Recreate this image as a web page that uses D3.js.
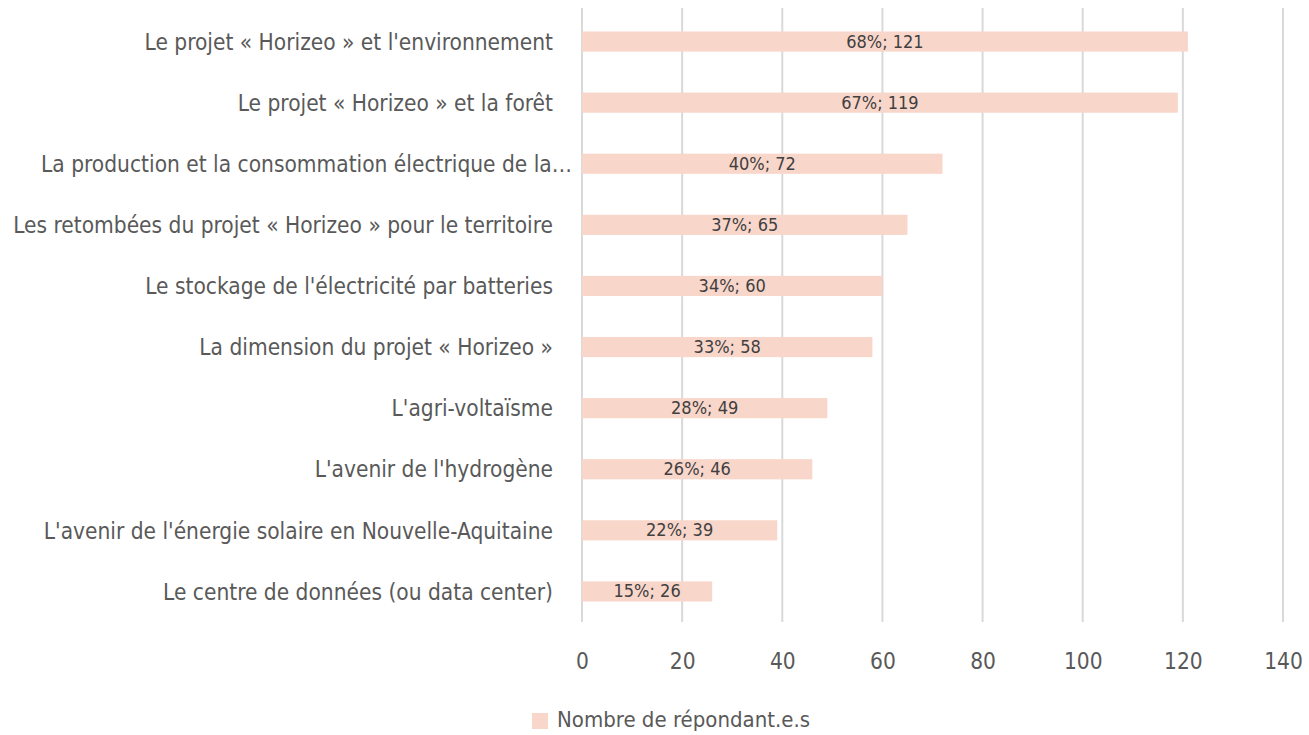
<!DOCTYPE html>
<html><head><meta charset="utf-8">
<script src="https://cdn.jsdelivr.net/npm/d3@7"></script>
<style>body{margin:0;background:#fff}svg{display:block}</style>
</head><body>
<script>
const categories = [
  "Le projet « Horizeo » et l'environnement",
  "Le projet « Horizeo » et la forêt",
  "La production et la consommation électrique de la…",
  "Les retombées du projet « Horizeo » pour le territoire",
  "Le stockage de l'électricité par batteries",
  "La dimension du projet « Horizeo »",
  "L'agri-voltaïsme",
  "L'avenir de l'hydrogène",
  "L'avenir de l'énergie solaire en Nouvelle-Aquitaine",
  "Le centre de données (ou data center)"
];
const counts = [121, 119, 72, 65, 60, 58, 49, 46, 39, 26];
const percents = ["68%", "67%", "40%", "37%", "34%", "33%", "28%", "26%", "22%", "15%"];
const xTicks = [0, 20, 40, 60, 80, 100, 120, 140];
const seriesName = "Nombre de répondant.e.s";

const W = 1309, H = 735;
const font = "'Liberation Sans Narrow', 'DejaVu Sans Condensed', sans-serif";
const svg = d3.select("body").append("svg").attr("width", W).attr("height", H);

const x = d3.scaleLinear().domain([0, 140]).range([582, 1283]);
const y = d3.scaleBand().domain(categories).range([11, 622]).paddingInner(0.67).paddingOuter(0.335);

// gridlines
svg.append("g").selectAll("line").data(xTicks).join("line")
  .attr("x1", d => x(d)).attr("x2", d => x(d))
  .attr("y1", 8).attr("y2", 622)
  .attr("stroke", "#d9d9d9").attr("stroke-width", 2);

// bars
svg.append("g").selectAll("rect").data(categories).join("rect")
  .attr("x", x(0)).attr("y", d => y(d))
  .attr("width", (d, i) => x(counts[i]) - x(0))
  .attr("height", y.bandwidth())
  .attr("fill", "#F9D6CA");

// data labels
svg.append("g").selectAll("text").data(categories).join("text")
  .attr("x", (d, i) => (x(0) + x(counts[i])) / 2)
  .attr("y", d => y(d) + y.bandwidth() / 2 + 1)
  .attr("text-anchor", "middle").attr("dominant-baseline", "middle")
  .attr("font-family", font).attr("font-size", 18).attr("fill", "#404040")
  .text((d, i) => percents[i] + "; " + counts[i]);

// category labels
const yAxis = d3.axisLeft(y).tickSize(0).tickPadding(0);
const ya = svg.append("g").attr("transform", "translate(553,1)").call(yAxis);
ya.select(".domain").remove();
ya.selectAll("text").attr("font-family", font).attr("font-size", 22.5).attr("fill", "#595959")
  .attr("dx", d => d.endsWith("…") ? 19 : 0);

// x axis labels
const xAxis = d3.axisBottom(x).tickValues(xTicks).tickSize(0).tickPadding(0);
const xa = svg.append("g").attr("transform", "translate(0,653)").call(xAxis);
xa.select(".domain").remove();
xa.selectAll("text").attr("font-family", font).attr("font-size", 22.5).attr("fill", "#595959");

// legend
const lg = svg.append("g");
lg.append("rect").attr("x", 532).attr("y", 713).attr("width", 16).attr("height", 16).attr("fill", "#F9D6CA");
lg.append("text").attr("x", 557).attr("y", 721).attr("dominant-baseline", "middle")
  .attr("font-family", font).attr("font-size", 22).attr("fill", "#595959").text(seriesName);
</script>
</body></html>
